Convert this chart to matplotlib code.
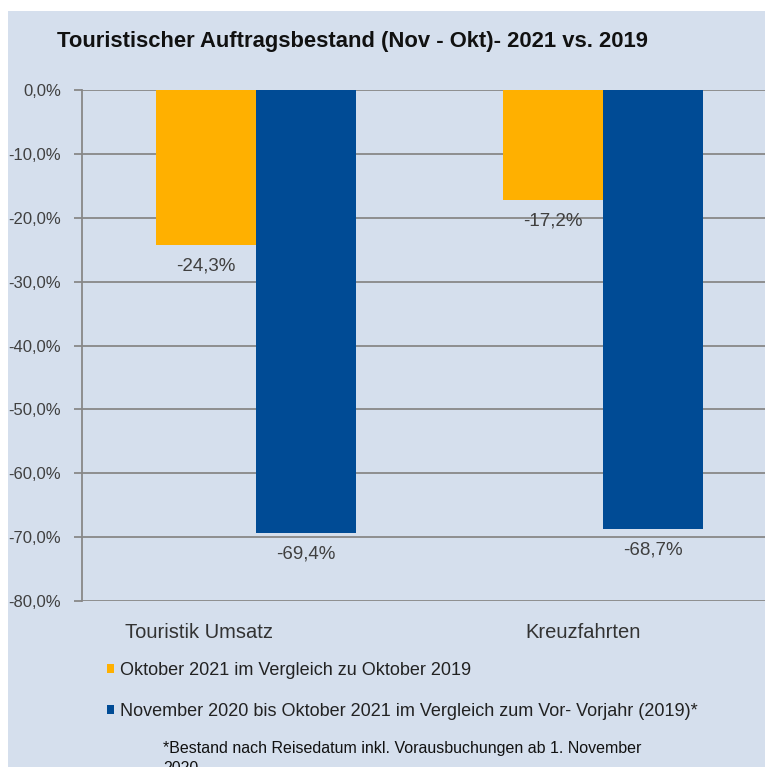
import matplotlib
matplotlib.use('Agg')
import matplotlib.pyplot as plt
import numpy as np
from matplotlib.patches import Rectangle
from matplotlib.transforms import blended_transform_factory

# ---- data ----
categories = ['Touristik Umsatz', 'Kreuzfahrten']
series_names = ['Oktober 2021 im Vergleich zu Oktober 2019',
                'November 2020 bis Oktober 2021 im Vergleich zum Vor- Vorjahr (2019)*']
oct_values = [-24.3, -17.2]
nov_values = [-69.4, -68.7]
ytick_values = [0, -10, -20, -30, -40, -50, -60, -70, -80]
title = 'Touristischer Auftragsbestand (Nov - Okt)- 2021 vs. 2019'
footnote_lines = ['*Bestand nach Reisedatum inkl. Vorausbuchungen ab 1. November', '2020']

# ---- style ----
W, H = 765, 767
BG = '#d5dfed'
ORANGE = '#ffb000'
BLUE = '#004b95'
GRID = '#888888'
SANS = ['Liberation Sans', 'DejaVu Sans']

def fmt(v):
    return f'{v:.1f}%'.replace('.', ',')

fig = plt.figure(figsize=(W / 100, H / 100), dpi=100)
fig.patch.set_facecolor('white')
fig.add_artist(Rectangle((8 / W, 0), 1 - 8 / W, 1 - 11 / H, transform=fig.transFigure,
                         facecolor=BG, edgecolor='none', zorder=0))

ax = fig.add_axes([82 / W, 1 - 601 / H, 695 / W, 511 / H])
ax.set_facecolor('none')

x = np.arange(len(categories))
bw = 0.288
b1 = ax.bar(x - bw / 2, oct_values, bw, color=ORANGE, zorder=3, label=series_names[0])
b2 = ax.bar(x + bw / 2, nov_values, bw, color=BLUE, zorder=3, label=series_names[1])

ax.set_xlim(-0.5, 1.5)
ax.set_ylim(-80, 0)
ax.set_yticks(ytick_values)
ax.set_yticklabels([fmt(v) for v in ytick_values], family=SANS)
ax.set_xticks([])
ax.yaxis.grid(True, color=GRID, lw=1.3)
ax.set_axisbelow(True)
for s in ['top', 'right', 'bottom']:
    ax.spines[s].set_visible(False)
ax.spines['left'].set_color(GRID)
ax.spines['left'].set_linewidth(1.3)
ax.tick_params(axis='y', length=6, width=1.3, color=GRID, labelsize=12,
               labelcolor='#404040', pad=9)

# data labels
for bars, vals in ((b1, oct_values), (b2, nov_values)):
    for rect, v in zip(bars, vals):
        ax.annotate(fmt(v), xy=(rect.get_x() + rect.get_width() / 2, v),
                    xytext=(0, -15), textcoords='offset points', ha='center', va='center',
                    fontsize=13.5, color='#404040', family=SANS)

# category labels
trans = blended_transform_factory(ax.transData, ax.transAxes)
cat_shift = [-0.163, -0.058]
for xi, c, sh in zip(x, categories, cat_shift):
    ax.text(xi + sh, -0.0626, c, transform=trans, ha='center', va='center',
            fontsize=14.5, color='#333333', family=SANS)

# title
fig.text(57 / W, 1 - 42 / H, title, ha='left', va='center', fontsize=15.8,
         fontweight='bold', color='#111111', family=SANS)

# legend
leg = fig.legend(handles=[b1, b2], loc='upper left', bbox_to_anchor=(107 / W, 1 - 662 / H),
                 frameon=False, borderpad=0, borderaxespad=0, handlelength=0.39,
                 handleheight=0.39, handletextpad=0.33, labelspacing=1.33,
                 prop={'family': SANS, 'size': 13})
for t in leg.get_texts():
    t.set_color('#222222')

# footnote
fig.text(163 / W, 1 - 748 / H, footnote_lines[0], ha='left', va='center', fontsize=11.5,
         color='#111111', family=SANS)
fig.text(163 / W, 1 - 768 / H, footnote_lines[1], ha='left', va='center', fontsize=11.5,
         color='#111111', family=SANS)

fig.savefig('out.png', dpi=100, facecolor=fig.get_facecolor())
